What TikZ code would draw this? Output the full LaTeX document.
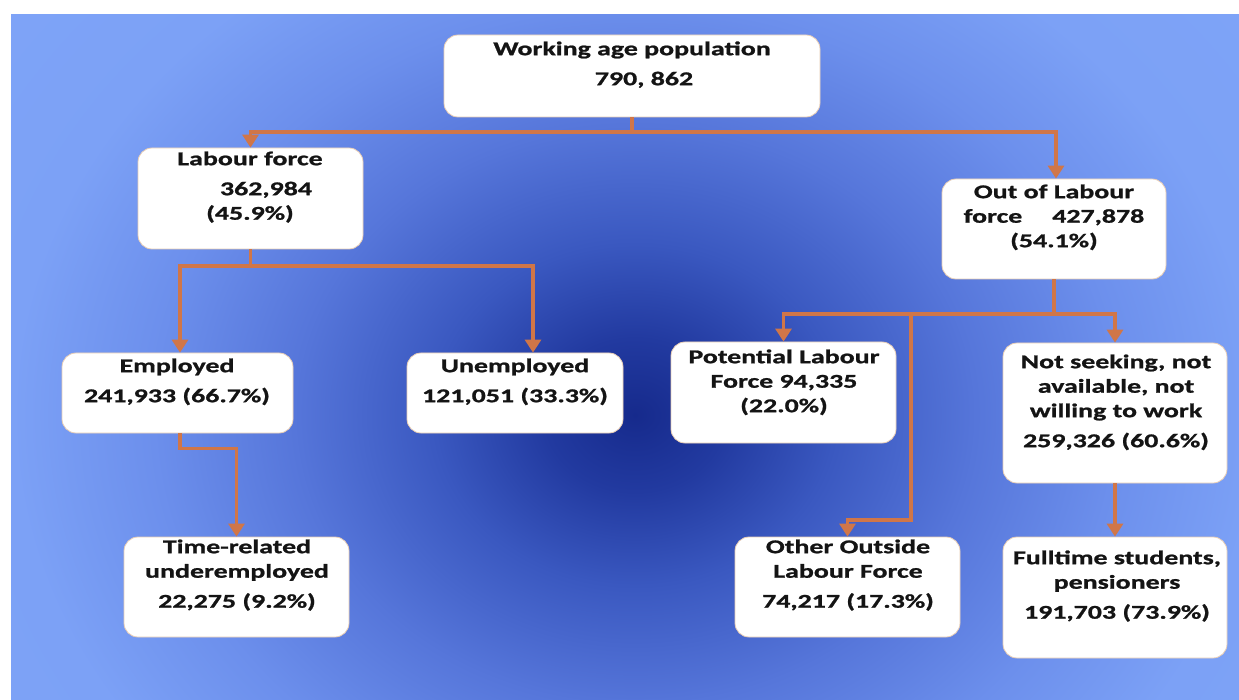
\documentclass[tikz,border=0pt]{standalone}
\usepackage{fontspec}
\setmainfont{Carlito}[FakeStretch=1.43, BoldFeatures={FakeBold=1.1}]
\usetikzlibrary{arrows.meta}
\definecolor{conn}{RGB}{208,118,72}
\definecolor{boxedge}{RGB}{232,205,180}
\definecolor{bgA}{RGB}{22,42,140}
\definecolor{bgB}{RGB}{34,58,160}
\definecolor{bgC}{RGB}{58,88,192}
\definecolor{bgD}{RGB}{86,118,218}
\definecolor{bgE}{RGB}{108,143,236}
\definecolor{bgF}{RGB}{124,161,246}
\definecolor{bgG}{RGB}{128,166,248}
\pgfdeclareradialshading{bgshade}{\pgfpoint{0bp}{0bp}}{color(0bp)=(bgA); color(90bp)=(bgB); color(200bp)=(bgC); color(340bp)=(bgD); color(480bp)=(bgE); color(620bp)=(bgF); color(950bp)=(bgG)}
\newcommand\firststrut{\rule{0pt}{16pt}}
\begin{document}
\begin{tikzpicture}[x=1pt,y=-1pt,
  box/.style={draw=boxedge, line width=0.8pt, fill=white, rounded corners=14pt, inner sep=0pt},
  txt/.style={anchor=north, align=center, inner sep=0pt, font=\fontsize{19.5}{24.5}\selectfont\bfseries, text=black!92},
  link/.style={draw=conn, line width=3.8pt},
  arr/.style={link, -{Triangle[width=16pt,length=13pt]}}]
\useasboundingbox (0,0) rectangle (1239,700);
\fill[white] (0,0) rectangle (1239,700);
\begin{scope}
  \clip (11,15) rectangle (1239,700);
  \begin{scope}[transform canvas={shift={(635,415)}, yscale=0.85}]
    \pgfuseshading{bgshade}
  \end{scope}
\end{scope}

% boxes
\node[box, minimum width=376pt, minimum height=82pt] (wap) at (632,76) {};
\node[box, minimum width=225pt, minimum height=101pt] (lf) at (250.5,198.5) {};
\node[box, minimum width=224pt, minimum height=100pt] (ool) at (1054,229) {};
\node[box, minimum width=231pt, minimum height=80pt] (emp) at (177.5,393) {};
\node[box, minimum width=216pt, minimum height=80pt] (unemp) at (515,393) {};
\node[box, minimum width=225pt, minimum height=101pt] (pot) at (783.5,392.5) {};
\node[box, minimum width=224pt, minimum height=140pt] (nsk) at (1115,413) {};
\node[box, minimum width=225pt, minimum height=100pt] (tru) at (236.5,587) {};
\node[box, minimum width=225pt, minimum height=100pt] (oth) at (847.5,587) {};
\node[box, minimum width=224pt, minimum height=121pt] (fts) at (1115,597.5) {};

% texts
\node[txt] (wapt) at (632,39) {\firststrut Working age population\\[5.5pt]\hspace*{24pt}790, 862};
\node[txt] (lft) at (250,149) {\firststrut Labour force\\[5.5pt]\hspace*{32pt}362,984\\(45.9\%)};
\node[txt] (oolt) at (1054,182) {\firststrut Out of Labour\\force\hspace{30pt}427,878\\(54.1\%)};
\node[txt] (empt) at (177,356) {\firststrut Employed\\[5.5pt]241,933 (66.7\%)};
\node[txt] (unempt) at (515,356) {\firststrut Unemployed\\[5.5pt]121,051 (33.3\%)};
\node[txt] (pott) at (784,347) {\firststrut Potential Labour\\Force 94,335\\(22.0\%)};
\node[txt] (nskt) at (1116,352) {\firststrut Not seeking, not\\available, not\\willing to work\\[5.5pt]259,326 (60.6\%)};
\node[txt] (trut) at (237,537) {\firststrut Time-related\\underemployed\\[5.5pt]22,275 (9.2\%)};
\node[txt] (otht) at (848,537) {\firststrut Other Outside\\Labour Force\\[5.5pt]74,217 (17.3\%)};
\node[txt] (ftst) at (1117,548) {\firststrut Fulltime students,\\pensioners\\[5.5pt]191,703 (73.9\%)};

% connectors
\draw[link] (wap.south) -- ++(0,15) coordinate (j0);
\draw[arr] (j0) -| (lf.north);
\draw[arr] (j0) -| ([xshift=2pt]ool.north);
\draw[link] (lf.south) -- ++(0,17) coordinate (j1);
\draw[arr] (j1) -| ([xshift=2.5pt]emp.north);
\draw[arr] (j1) -| ([xshift=18pt]unemp.north);
\draw[arr] ([xshift=2.5pt]emp.south) -- ++(0,15) -| (tru.north);
\draw[link] (ool.south) -- ++(0,35) coordinate (j2);
\draw[arr] (j2) -| (pot.north);
\draw[arr] (j2) -| (nsk.north);
\coordinate (j3) at (911,314);
\draw[arr] (j3) -- ++(0,206) -| (oth.north);
\draw[arr] (nsk.south) -- (fts.north);
\end{tikzpicture}
\end{document}
